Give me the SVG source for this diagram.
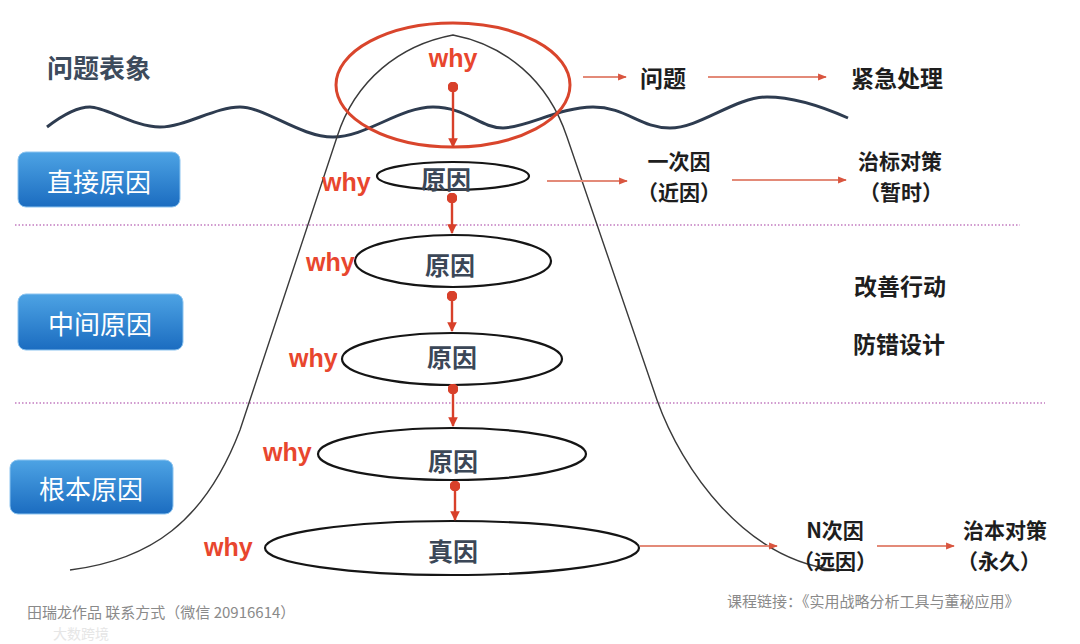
<svg xmlns="http://www.w3.org/2000/svg" width="1080" height="644" viewBox="0 0 1080 644">
<defs>
<linearGradient id="blue" x1="0" y1="0" x2="0" y2="1">
<stop offset="0" stop-color="#4da3e4"/>
<stop offset="1" stop-color="#1b6cc0"/>
</linearGradient>
<marker id="ar" viewBox="0 0 10 10" refX="9" refY="5" markerWidth="4" markerHeight="4" orient="auto" markerUnits="strokeWidth">
<path d="M0,0 L10,5 L0,10 z" fill="#d8402a"/>
</marker>
<marker id="dot" viewBox="0 0 10 10" refX="5" refY="5" markerWidth="4.5" markerHeight="4.5" markerUnits="strokeWidth">
<circle cx="5" cy="5" r="5" fill="#d8402a"/>
</marker>
<marker id="as" viewBox="0 0 10 10" refX="9" refY="5" markerWidth="4" markerHeight="4" orient="auto" markerUnits="strokeWidth">
<path d="M0,1 L10,5 L0,9 z" fill="#d9553f"/>
</marker>
<style>
.cjk{font-family:"Noto Sans CJK SC","Liberation Sans",sans-serif;}
.lbl{font-family:"Noto Sans CJK SC",sans-serif;font-size:26px;fill:#ffffff;text-anchor:middle;dominant-baseline:central;}
.why{font-family:"Liberation Sans",Arial,sans-serif;font-weight:bold;font-size:25px;fill:#e8462e;dominant-baseline:central;}
.cause{font-family:"Noto Sans CJK SC",sans-serif;font-weight:bold;font-size:25px;fill:#3b4757;text-anchor:middle;dominant-baseline:central;}
.rt{font-family:"Noto Sans CJK SC",sans-serif;font-weight:bold;font-size:23px;fill:#1e1e1e;text-anchor:middle;dominant-baseline:central;}
.rt2{font-family:"Noto Sans CJK SC",sans-serif;font-weight:bold;font-size:21px;fill:#1e1e1e;text-anchor:middle;dominant-baseline:central;}
.foot{font-family:"Noto Sans CJK SC","Liberation Sans",sans-serif;font-size:15px;fill:#8a8a8a;dominant-baseline:central;}
.ell{fill:none;stroke:#151515;stroke-width:2.2;}
.vc{stroke:#d8402a;stroke-width:2.4;fill:none;marker-start:url(#dot);marker-end:url(#ar);}
.hc{stroke:#e38a78;stroke-width:2.2;fill:none;marker-end:url(#as);}
.box{fill:url(#blue);stroke:#8cc4f0;stroke-width:1;}
.dotline{stroke:#c27bc0;stroke-width:1.6;stroke-dasharray:1.5 2;fill:none;}
</style>
</defs>
<rect width="1080" height="644" fill="#ffffff"/>

<g id="background">
<path class="dotline" d="M15 225 H1020"/>
<path class="dotline" d="M15 403 H1045"/>
<path id="wave" d="M47 127 C60 117,75 107,90 107 S135 127,160 127 S215 107,240 107 S300 137,333 137 S400 107,433 107 S480 128,503 128 S560 107,593 107 S640 128,670 128 S735 97,767 97 S830 110,848 118" fill="none" stroke="#2e3c50" stroke-width="3"/>
<path id="mountain" d="M70 570 C150 560,205 522,240 430 L337 137 C355 80,400 45,453 35 C505 45,548 80,567 137 L657 400 C682 470,745 560,837 570" fill="none" stroke="#3a3a3a" stroke-width="1.4"/>
</g>

<g id="label-problem">
<text class="cjk" x="47" y="66" font-size="26" font-weight="bold" fill="#3d4b5c" dominant-baseline="central">问题表象</text>
</g>
<g id="box-direct">
<rect class="box" x="18" y="152" width="162" height="55" rx="8"/>
<text class="lbl" x="99" y="180">直接原因</text>
</g>
<g id="box-middle">
<rect class="box" x="18" y="294" width="165" height="56" rx="8"/>
<text class="lbl" x="100" y="322">中间原因</text>
</g>
<g id="box-root">
<rect class="box" x="10" y="460" width="163" height="54" rx="8"/>
<text class="lbl" x="91" y="487">根本原因</text>
</g>

<g id="node-top">
<ellipse cx="453" cy="85" rx="117" ry="62" fill="none" stroke="#d9452c" stroke-width="3"/>
<text class="why" x="453" y="58" text-anchor="middle">why</text>
</g>
<g id="node-1">
<ellipse class="ell" cx="453" cy="176" rx="76" ry="14"/>
<text class="cause" x="446" y="178">原因</text>
<text class="why" x="322" y="182">why</text>
</g>
<g id="node-2">
<ellipse class="ell" cx="453" cy="261" rx="98" ry="26"/>
<text class="cause" x="450" y="264">原因</text>
<text class="why" x="306" y="262">why</text>
</g>
<g id="node-3">
<ellipse class="ell" cx="452" cy="359" rx="110" ry="26"/>
<text class="cause" x="452" y="356">原因</text>
<text class="why" x="289" y="358">why</text>
</g>
<g id="node-4">
<ellipse class="ell" cx="452" cy="454" rx="134" ry="26"/>
<text class="cause" x="453" y="460">原因</text>
<text class="why" x="263" y="452">why</text>
</g>
<g id="node-5">
<ellipse class="ell" cx="452" cy="548" rx="187" ry="27"/>
<text class="cause" x="453" y="550">真因</text>
<text class="why" x="204" y="547">why</text>
</g>

<g id="node-problem"><text class="rt" x="663" y="77">问题</text></g>
<g id="node-urgent"><text class="rt" x="897" y="77">紧急处理</text></g>
<g id="node-first"><text class="rt2" x="679" y="160">一次因</text><text class="rt2" x="679" y="191">（近因）</text></g>
<g id="node-temp"><text class="rt2" x="900" y="160">治标对策</text><text class="rt2" x="901" y="191">（暂时）</text></g>
<g id="node-improve"><text class="rt" x="900" y="285">改善行动</text></g>
<g id="node-poka"><text class="rt" x="899" y="343">防错设计</text></g>
<g id="node-nth"><text class="rt2" x="835" y="529">N次因</text><text class="rt2" x="835" y="560">（远因）</text></g>
<g id="node-perm"><text class="rt2" x="1005" y="529">治本对策</text><text class="rt2" x="999" y="560">（永久）</text></g>

<g id="connectors">
<path class="vc" d="M453 87 V147"/>
<path class="vc" d="M452 198 V233"/>
<path class="vc" d="M452 296 V331"/>
<path class="vc" d="M453 389 V426"/>
<path class="vc" d="M455 486 V520"/>
<path class="hc" d="M583 77 H626"/>
<path class="hc" d="M708 77 H826"/>
<path class="hc" d="M547 181 H627"/>
<path class="hc" d="M732 180 H846"/>
<path class="hc" d="M640 546 H777"/>
<path class="hc" d="M877 546 H954"/>
</g>

<g id="footer">
<text class="foot" x="27" y="611" font-size="14.5">田瑞龙作品 联系方式（微信 20916614）</text>
<text class="foot" x="727" y="600">课程链接：《实用战略分析工具与董秘应用》</text>
<text class="cjk" x="53" y="633" font-size="14" fill="#e6e6e6" dominant-baseline="central">大数跨境</text>
</g>
</svg>
